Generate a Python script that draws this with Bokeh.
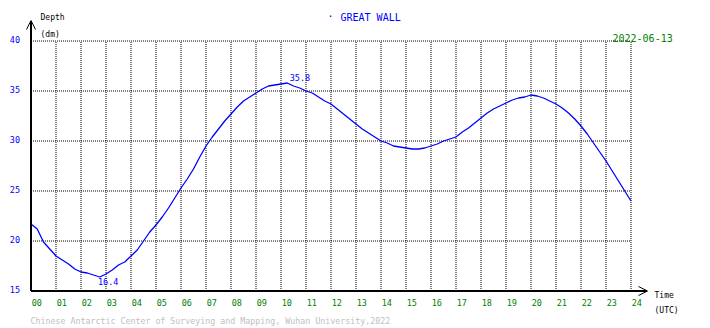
from bokeh.plotting import figure
from bokeh.models import Range1d, Arrow, OpenHead, ColumnDataSource
from bokeh.core.properties import value
from bokeh.embed import file_html
from bokeh.resources import INLINE

# ---- data ----
station = "GREAT WALL"
date_label = "2022-06-13"
footer = "Chinese Antarctic Center of Surveying and Mapping, Wuhan University,2022"

hours = [0, 0.25, 0.5, 0.75, 1.0, 1.25, 1.5, 1.75, 2.0, 2.25, 2.5, 2.75, 3.0, 3.25, 3.5, 3.75,
         4.0, 4.25, 4.5, 4.75, 5.0, 5.25, 5.5, 5.75, 6.0, 6.25, 6.5, 6.75, 7.0, 7.25, 7.5, 7.75,
         8.0, 8.25, 8.5, 8.75, 9.0, 9.25, 9.5, 9.75, 10.0, 10.25, 10.5, 10.75, 11.0, 11.25, 11.5, 11.75,
         12.0, 12.25, 12.5, 12.75, 13.0, 13.25, 13.5, 13.75, 14.0, 14.25, 14.5, 14.75, 15.0, 15.25, 15.5, 15.75,
         16.0, 16.25, 16.5, 16.75, 17.0, 17.25, 17.5, 17.75, 18.0, 18.25, 18.5, 18.75, 19.0, 19.25, 19.5, 19.75,
         20.0, 20.25, 20.5, 20.75, 21.0, 21.25, 21.5, 21.75, 22.0, 22.25, 22.5, 22.75, 23.0, 23.25, 23.5, 23.75, 24.0]
depth = [21.7, 21.2, 19.9, 19.2, 18.5, 18.1, 17.7, 17.2, 16.9, 16.8, 16.6, 16.4, 16.7, 17.1, 17.6, 17.9,
         18.5, 19.1, 20.0, 20.9, 21.6, 22.4, 23.3, 24.3, 25.3, 26.2, 27.2, 28.4, 29.5, 30.4, 31.2, 32.0,
         32.7, 33.4, 34.0, 34.4, 34.8, 35.2, 35.5, 35.6, 35.7, 35.8, 35.5, 35.3, 35.0, 34.8, 34.4, 34.0,
         33.7, 33.2, 32.7, 32.2, 31.7, 31.2, 30.8, 30.4, 30.0, 29.8, 29.5, 29.4, 29.3, 29.2, 29.2, 29.3,
         29.5, 29.7, 30.0, 30.2, 30.4, 30.9, 31.3, 31.8, 32.3, 32.8, 33.2, 33.5, 33.8, 34.1, 34.3, 34.4,
         34.6, 34.5, 34.3, 34.0, 33.7, 33.3, 32.8, 32.2, 31.5, 30.7, 29.8, 28.9, 28.0, 27.0, 26.0, 25.0, 24.0]

x_ticks = list(range(0, 25))
x_tick_labels = ["%02d" % h for h in x_ticks]
y_ticks = [15, 20, 25, 30, 35, 40]
y_tick_labels = [str(v) for v in y_ticks]

# ---- geometry helpers (page pixel -> data) ----
W, H = 708, 326
X0PX, PX_PER_H = 30.5, 25.0     # page x of hour 0, pixels per hour
Y40PX, PX_PER_DM = 40.5, 10.0   # page y of 40 dm, pixels per dm
def px2x(ix):
    return (ix - X0PX) / PX_PER_H
def px2y(iy):
    return 40 - (iy - Y40PX) / PX_PER_DM

FONT = value("DejaVu Sans Mono")
BLUE = "#0000ff"
GREEN = "#008000"

p = figure(width=W, height=H, output_backend="svg", toolbar_location=None,
           x_axis_type=None, y_axis_type=None,
           x_range=Range1d(px2x(0), px2x(W)), y_range=Range1d(px2y(H), px2y(0)),
           min_border=0, outline_line_color=None)
p.background_fill_color = "white"
p.border_fill_color = "white"
p.xgrid.visible = False
p.ygrid.visible = False

# dotted grid limited to the data area
vx = x_ticks[1:]
p.segment(x0=vx, y0=[y_ticks[0]] * len(vx), x1=vx, y1=[y_ticks[-1]] * len(vx),
          line_color="black", line_width=1, line_dash="1 1")
hy = y_ticks[1:]
p.segment(x0=[x_ticks[0]] * len(hy), y0=hy, x1=[x_ticks[-1]] * len(hy), y1=hy,
          line_color="black", line_width=1, line_dash="1 1")

# axes with arrows
p.add_layout(Arrow(end=OpenHead(size=9, line_color="black", line_width=1),
                   x_start=0, y_start=y_ticks[0], x_end=px2x(647), y_end=y_ticks[0],
                   line_color="black", line_width=2))
p.add_layout(Arrow(end=OpenHead(size=9, line_color="black", line_width=1),
                   x_start=0, y_start=y_ticks[0], x_end=0, y_end=px2y(20),
                   line_color="black", line_width=2))

# tide curve
src = ColumnDataSource(dict(t=hours, d=depth))
p.line("t", "d", source=src, line_color=BLUE, line_width=1.3)

# tick labels
p.text(x=[px2x(19.5)] * len(y_ticks), y=[v + 0.2 for v in y_ticks], text=y_tick_labels,
       text_font=FONT, text_font_size="8.5px", text_color=BLUE, text_align="right", text_baseline="middle")
p.text(x=[h + 0.03 for h in x_ticks], y=[px2y(301.5)] * len(x_ticks), text=x_tick_labels,
       text_font=FONT, text_font_size="8.5px", text_color=GREEN, text_align="left", text_baseline="middle")

# max / min annotations
imax = max(range(len(depth)), key=lambda i: depth[i])
imin = min(range(len(depth)), key=lambda i: depth[i])
p.text(x=[hours[imax] + 0.1], y=[depth[imax] + 0.2], text=["%.1f" % depth[imax]],
       text_font=FONT, text_font_size="8.5px", text_color=BLUE, text_align="left", text_baseline="bottom")
p.text(x=[hours[imin] - 0.07], y=[depth[imin] - 0.1], text=["%.1f" % depth[imin]],
       text_font=FONT, text_font_size="8.5px", text_color=BLUE, text_align="left", text_baseline="top")

# axis titles
p.text(x=[px2x(40)], y=[px2y(16.5)], text=["Depth"], text_font=FONT, text_font_size="8px",
       text_color="black", text_align="left", text_baseline="middle")
p.text(x=[px2x(40)], y=[px2y(34)], text=["(dm)"], text_font=FONT, text_font_size="8px",
       text_color="black", text_align="left", text_baseline="middle")
p.text(x=[px2x(654)], y=[px2y(294.5)], text=["Time"], text_font=FONT, text_font_size="8px",
       text_color="black", text_align="left", text_baseline="middle")
p.text(x=[px2x(654)], y=[px2y(309.5)], text=["(UTC)"], text_font=FONT, text_font_size="8px",
       text_color="black", text_align="left", text_baseline="middle")

# title, date, footer
p.text(x=[px2x(327)], y=[px2y(16)], text=["\u00b7"], text_font=FONT, text_font_size="10px",
       text_color=BLUE, text_align="left", text_baseline="middle")
p.text(x=[px2x(340)], y=[px2y(17)], text=[station], text_font=FONT, text_font_size="10px",
       text_color=BLUE, text_align="left", text_baseline="middle")
p.text(x=[px2x(612)], y=[px2y(37)], text=[date_label], text_font=FONT, text_font_size="10px",
       text_color=GREEN, text_align="left", text_baseline="middle")
p.text(x=[px2x(30)], y=[px2y(320)], text=[footer], text_font=FONT, text_font_size="8.3px",
       text_color="#c0c0c0", text_align="left", text_baseline="middle")

open("out.html", "w").write(file_html(p, INLINE))
